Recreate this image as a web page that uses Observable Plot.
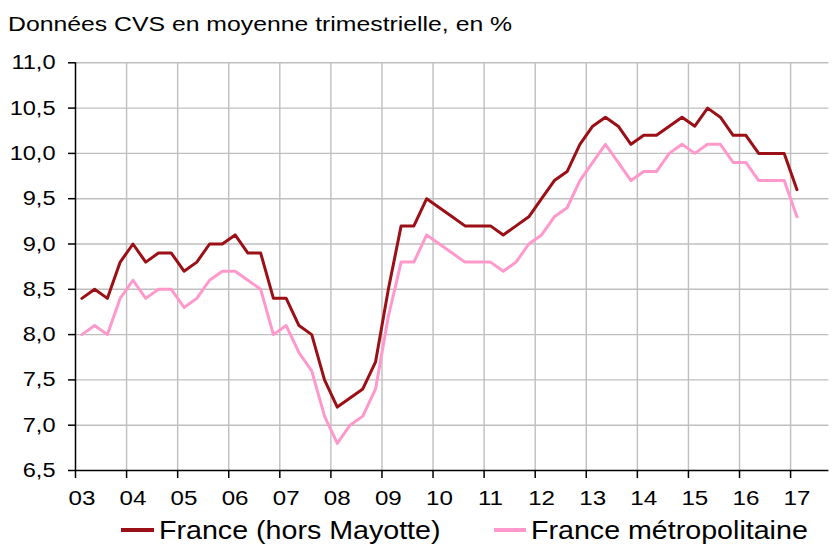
<!DOCTYPE html>
<html><head><meta charset="utf-8">
<script src="https://cdn.jsdelivr.net/npm/d3@7"></script>
<script src="https://cdn.jsdelivr.net/npm/@observablehq/plot@0.6"></script>
<style>
body{margin:0;background:#fff;}
#wrap{position:relative;width:833px;height:545px;overflow:hidden;font-family:"Liberation Sans",Arial,sans-serif;color:#000;background:#fff;}
#title{position:absolute;left:8px;top:13px;font-size:21px;line-height:1;white-space:nowrap;transform:scaleX(1.18);transform-origin:0 0;}
#chart{position:absolute;left:0;top:40px;}
.sw{position:absolute;top:528px;height:3.5px;}
.lt{position:absolute;top:517px;font-size:26.5px;line-height:1;white-space:nowrap;transform:scaleX(1.08);transform-origin:0 0;}
</style>
</head><body>
<div id="wrap">
  <div id="title">Données CVS en moyenne trimestrielle, en %</div>
  <div id="chart"></div>
  <div class="sw" style="left:121px;width:33px;background:#9a1016"></div>
  <div class="lt" style="left:159px">France (hors Mayotte)</div>
  <div class="sw" style="left:494px;width:32px;background:#ff99cc"></div>
  <div class="lt" style="left:531px">France métropolitaine</div>
</div>
<script>
// Quarterly data, 2003 T1 .. 2017 T1
const startYear = 2003;
const franceHorsMayotte = [
  8.4, 8.5, 8.4, 8.8,  9.0, 8.8, 8.9, 8.9,  8.7, 8.8, 9.0, 9.0,
  9.1, 8.9, 8.9, 8.4,  8.4, 8.1, 8.0, 7.5,  7.2, 7.3, 7.4, 7.7,
  8.5, 9.2, 9.2, 9.5,  9.4, 9.3, 9.2, 9.2,  9.2, 9.1, 9.2, 9.3,
  9.5, 9.7, 9.8, 10.1, 10.3, 10.4, 10.3, 10.1, 10.2, 10.2, 10.3, 10.4,
  10.3, 10.5, 10.4, 10.2, 10.2, 10.0, 10.0, 10.0, 9.6
];
const franceMetropolitaine = [
  8.0, 8.1, 8.0, 8.4,  8.6, 8.4, 8.5, 8.5,  8.3, 8.4, 8.6, 8.7,
  8.7, 8.6, 8.5, 8.0,  8.1, 7.8, 7.6, 7.1,  6.8, 7.0, 7.1, 7.4,
  8.2, 8.8, 8.8, 9.1,  9.0, 8.9, 8.8, 8.8,  8.8, 8.7, 8.8, 9.0,
  9.1, 9.3, 9.4, 9.7,  9.9, 10.1, 9.9, 9.7, 9.8, 9.8, 10.0, 10.1,
  10.0, 10.1, 10.1, 9.9, 9.9, 9.7, 9.7, 9.7, 9.3
];
const xTickLabels = ["03","04","05","06","07","08","09","10","11","12","13","14","15","16","17"];
const yTicks = [6.5, 7.0, 7.5, 8.0, 8.5, 9.0, 9.5, 10.0, 10.5, 11.0];

const toRows = arr => arr.map((v, i) => ({t: startYear + i / 4 + 0.125, v}));
const rowsA = toRows(franceHorsMayotte);
const rowsB = toRows(franceMetropolitaine);
const yearTicks = xTickLabels.map((_, i) => startYear + i);
const labelPos = yearTicks.map(y => y + 0.125);

const chart = Plot.plot({
  width: 833, height: 480,
  marginTop: 22.3, marginBottom: 50, marginLeft: 75, marginRight: 4.6,
  style: {fontFamily: "'Liberation Sans', Arial, sans-serif", fontSize: "20.5px", color: "#000", background: "#fff", overflow: "visible"},
  x: {domain: [2003, 2017.75]},
  y: {domain: [6.5, 11]},
  marks: [
    Plot.gridY(yTicks.slice(1), {stroke: "#bfbfbf", strokeOpacity: 1, strokeWidth: 1.4}),
    Plot.gridX(yearTicks.slice(1), {stroke: "#bfbfbf", strokeOpacity: 1, strokeWidth: 1.4}),
    Plot.ruleY([6.5], {stroke: "#000", strokeWidth: 1.5}),
    Plot.ruleX([2003], {stroke: "#000", strokeWidth: 1.5}),
    Plot.axisY(yTicks, {tickSize: 7, tickPadding: 13, stroke: "#000", strokeWidth: 1.5, label: null,
      tickFormat: d => d.toFixed(1).replace(".", ",")}),
    Plot.axisX(yearTicks, {tickSize: 8, stroke: "#000", strokeWidth: 1.5, label: null, tickFormat: () => ""}),
    Plot.axisX(labelPos, {tickSize: 0, tickPadding: 20, label: null, fontSize: 21,
      tickFormat: d => xTickLabels[Math.round(d - 0.125) - startYear]}),
    Plot.line(rowsA, {x: "t", y: "v", stroke: "#9a1016", strokeWidth: 3}),
    Plot.line(rowsB, {x: "t", y: "v", stroke: "#ff99cc", strokeWidth: 3})
  ]
});
chart.querySelectorAll("text").forEach(el => {
  const t = el.getAttribute("transform");
  if (t) el.setAttribute("transform", t + " scale(1.15,1)");
});
document.getElementById("chart").appendChild(chart);
</script>
</body></html>
